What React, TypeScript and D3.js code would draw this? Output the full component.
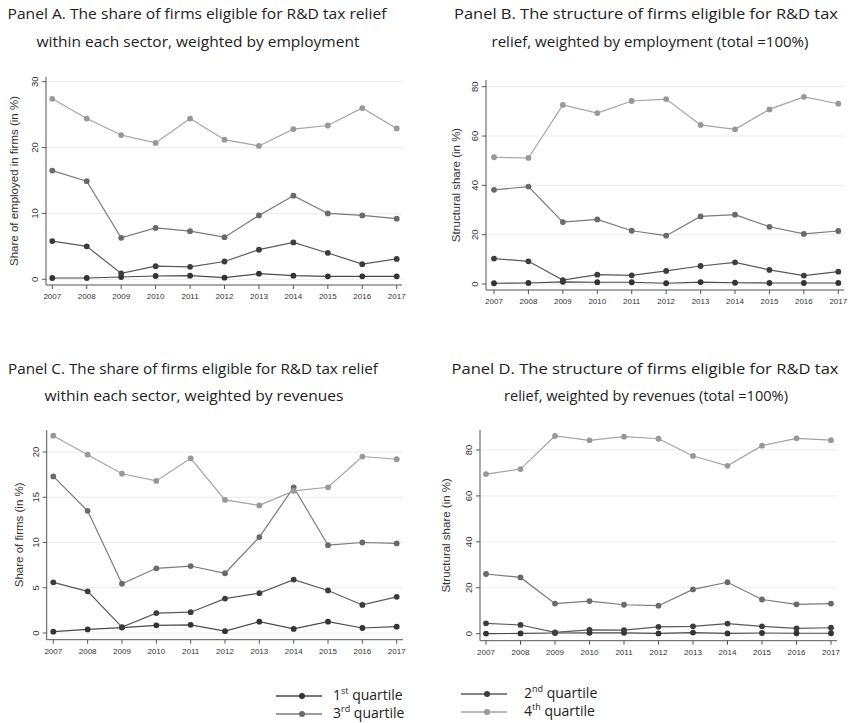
import React from "react";
import * as d3 from "d3";

const years = [2007, 2008, 2009, 2010, 2011, 2012, 2013, 2014, 2015, 2016, 2017];

// Panel A: share of employed in firms (in %)
const aQ1 = [0.2, 0.2, 0.35, 0.5, 0.55, 0.25, 0.85, 0.55, 0.45, 0.45, 0.45];
const aQ2 = [5.8, 5.0, 0.9, 2.0, 1.9, 2.7, 4.5, 5.6, 4.0, 2.3, 3.1];
const aQ3 = [16.5, 14.9, 6.3, 7.8, 7.3, 6.4, 9.7, 12.7, 10.0, 9.7, 9.2];
const aQ4 = [27.4, 24.4, 21.9, 20.7, 24.4, 21.2, 20.25, 22.8, 23.35, 26.0, 22.9];

// Panel B: structural share, employment
const bQ1 = [0.3, 0.4, 0.9, 0.7, 0.7, 0.3, 0.8, 0.5, 0.4, 0.4, 0.4];
const bQ2 = [10.3, 9.2, 1.6, 3.8, 3.5, 5.3, 7.3, 8.8, 5.7, 3.4, 5.0];
const bQ3 = [38.2, 39.5, 25.1, 26.2, 21.6, 19.6, 27.4, 28.1, 23.2, 20.3, 21.5];
const bQ4 = [51.4, 51.1, 72.6, 69.3, 74.2, 75.0, 64.5, 62.7, 70.8, 75.9, 73.1];

// Panel C: share of firms (in %), revenues
const cQ1 = [0.15, 0.4, 0.6, 0.85, 0.9, 0.2, 1.25, 0.45, 1.25, 0.55, 0.7];
const cQ2 = [5.6, 4.6, 0.65, 2.2, 2.3, 3.8, 4.4, 5.9, 4.7, 3.1, 4.0];
const cQ3 = [17.3, 13.5, 5.45, 7.15, 7.4, 6.6, 10.6, 16.1, 9.7, 10.0, 9.9];
const cQ4 = [21.8, 19.7, 17.6, 16.8, 19.3, 14.7, 14.1, 15.7, 16.1, 19.5, 19.2];

// Panel D: structural share, revenues
const dQ1 = [0.05, 0.1, 0.3, 0.4, 0.4, 0.1, 0.5, 0.1, 0.3, 0.2, 0.2];
const dQ2 = [4.5, 3.8, 0.6, 1.7, 1.6, 3.0, 3.2, 4.4, 3.2, 2.3, 2.6];
const dQ3 = [26.0, 24.5, 13.1, 14.2, 12.6, 12.2, 19.3, 22.4, 14.9, 12.8, 13.1];
const dQ4 = [69.5, 71.7, 86.1, 84.2, 85.8, 84.9, 77.4, 73.1, 81.9, 85.1, 84.3];

const aTicks = [0, 10, 20, 30];
const bTicks = [0, 20, 40, 60, 80];
const cTicks = [0, 5, 10, 15, 20];
const dTicks = [0, 20, 40, 60, 80];

const legendLabels = [
  { base: "1", sup: "st", rest: " quartile" },
  { base: "2", sup: "nd", rest: " quartile" },
  { base: "3", sup: "rd", rest: " quartile" },
  { base: "4", sup: "th", rest: " quartile" },
];

const seriesStyle = [
  { line: "#4a4a4a", dot: "#333333" },
  { line: "#5a5a5a", dot: "#3c3c3c" },
  { line: "#7a7a7a", dot: "#6a6a6a" },
  { line: "#a4a4a4", dot: "#989898" },
];

const TITLE_FONT = "'Open Sans', 'Noto Sans', sans-serif";
const AXIS_FONT = "'Liberation Sans', Arial, sans-serif";

type PanelProps = {
  series: number[][];
  ticks: number[];
  yMax: number;
  x0: number;
  x1: number;
  yBottom: number;
  yTopVal: number;
  axisX: number;
  axisY: number;
  axisTop: number;
  gridRight: number;
  yTitle: string;
  yTitleX: number;
  titles: { text: string; cx: number; y: number; w: number }[];
};

function Panel(p: PanelProps) {
  const x = d3.scalePoint<number>().domain(years).range([p.x0, p.x1]);
  const y = d3.scaleLinear().domain([0, p.yMax]).range([p.yBottom, p.yTopVal]);
  const line = d3
    .line<number>()
    .x((_, i) => x(years[i]) as number)
    .y((v) => y(v));
  const yMid = (p.axisTop + p.axisY) / 2;
  return (
    <g>
      {p.titles.map((t, i) => (
        <text
          key={i}
          x={t.cx}
          y={t.y}
          textAnchor="middle"
          fontFamily={TITLE_FONT}
          fontSize={15}
          fill="#222"
          textLength={t.w}
          lengthAdjust="spacingAndGlyphs"
        >
          {t.text}
        </text>
      ))}
      {p.ticks.map((t) => (
        <line
          key={"g" + t}
          x1={p.axisX}
          x2={p.gridRight}
          y1={y(t)}
          y2={y(t)}
          stroke="#ececec"
          strokeWidth={1}
        />
      ))}
      <line x1={p.axisX} x2={p.axisX} y1={p.axisTop} y2={p.axisY} stroke="#555" strokeWidth={1} />
      <line x1={p.axisX} x2={p.gridRight} y1={p.axisY} y2={p.axisY} stroke="#555" strokeWidth={1} />
      {p.ticks.map((t) => (
        <g key={"t" + t}>
          <line x1={p.axisX - 4} x2={p.axisX} y1={y(t)} y2={y(t)} stroke="#555" />
          <text
            transform={`translate(${p.axisX - 8},${y(t)}) rotate(-90)`}
            textAnchor="middle"
            fontFamily={AXIS_FONT}
            fontSize={9.5}
            fill="#333"
          >
            {t}
          </text>
        </g>
      ))}
      {years.map((yr) => (
        <g key={"x" + yr}>
          <line x1={x(yr)} x2={x(yr)} y1={p.axisY} y2={p.axisY + 4} stroke="#555" />
          <text
            x={x(yr)}
            y={p.axisY + 14}
            textAnchor="middle"
            fontFamily={AXIS_FONT}
            fontSize={8}
            fill="#333"
          >
            {yr}
          </text>
        </g>
      ))}
      <text
        transform={`translate(${p.yTitleX},${yMid}) rotate(-90)`}
        textAnchor="middle"
        fontFamily={AXIS_FONT}
        fontSize={11.5}
        fill="#333"
      >
        {p.yTitle}
      </text>
      {p.series.map((s, si) => (
        <g key={"s" + si}>
          <path d={line(s) || ""} fill="none" stroke={seriesStyle[si].line} strokeWidth={1.2} />
          {s.map((v, i) => (
            <circle key={i} cx={x(years[i])} cy={y(v)} r={2.9} fill={seriesStyle[si].dot} />
          ))}
        </g>
      ))}
    </g>
  );
}

function Legend() {
  const items = [
    { lx: 276, tx: 333, y: 696 },
    { lx: 461, tx: 524, y: 694 },
    { lx: 276, tx: 333, y: 714 },
    { lx: 461, tx: 524, y: 712 },
  ];
  return (
    <g>
      {items.map((it, i) => (
        <g key={i}>
          <line x1={it.lx} x2={it.lx + 46} y1={it.y} y2={it.y} stroke={seriesStyle[i].line} strokeWidth={1.3} />
          <circle cx={it.lx + 26} cy={it.y} r={3} fill={seriesStyle[i].dot} />
          <text x={it.tx} y={it.y + 4} fontFamily={TITLE_FONT} fontSize={14} fill="#222">
            {legendLabels[i].base}
            <tspan fontSize={9} dy={-6}>
              {legendLabels[i].sup}
            </tspan>
            <tspan dy={6}>{legendLabels[i].rest}</tspan>
          </text>
        </g>
      ))}
    </g>
  );
}

export default function App() {
  return (
    <svg
      width={849}
      height={723}
      style={{ position: "absolute", left: 0, top: 0, background: "#fff" }}
    >
      <rect width={849} height={723} fill="#fff" />
      <Panel
        series={[aQ1, aQ2, aQ3, aQ4]}
        ticks={aTicks}
        yMax={30}
        x0={52.3}
        x1={396.7}
        yBottom={279.3}
        yTopVal={81.7}
        axisX={46}
        axisY={285}
        axisTop={77}
        gridRight={402}
        yTitle="Share of employed in firms (in %)"
        yTitleX={18}
        titles={[
          { text: "Panel A. The share of firms eligible for R&D tax relief", cx: 197, y: 19, w: 379 },
          { text: "within each sector, weighted by employment", cx: 198, y: 47, w: 323 },
        ]}
      />
      <Panel
        series={[bQ1, bQ2, bQ3, bQ4]}
        ticks={bTicks}
        yMax={80}
        x0={494}
        x1={838.3}
        yBottom={284}
        yTopVal={86.7}
        axisX={486}
        axisY={290}
        axisTop={80}
        gridRight={844}
        yTitle="Structural share (in %)"
        yTitleX={460}
        titles={[
          { text: "Panel B. The structure of firms eligible for R&D tax", cx: 646, y: 19, w: 384 },
          { text: "relief, weighted by employment (total =100%)", cx: 650, y: 47, w: 317 },
        ]}
      />
      <Panel
        series={[cQ1, cQ2, cQ3, cQ4]}
        ticks={cTicks}
        yMax={20}
        x0={53.3}
        x1={396.7}
        yBottom={633}
        yTopVal={452}
        axisX={46.7}
        axisY={639.7}
        axisTop={430}
        gridRight={403}
        yTitle="Share of firms (in %)"
        yTitleX={23}
        titles={[
          { text: "Panel C. The share of firms eligible for R&D tax relief", cx: 193, y: 374, w: 370 },
          { text: "within each sector, weighted by revenues", cx: 194, y: 401, w: 299 },
        ]}
      />
      <Panel
        series={[dQ1, dQ2, dQ3, dQ4]}
        ticks={dTicks}
        yMax={80}
        x0={486}
        x1={831}
        yBottom={633.7}
        yTopVal={450}
        axisX={480}
        axisY={640.7}
        axisTop={430}
        gridRight={837}
        yTitle="Structural share (in %)"
        yTitleX={450}
        titles={[
          { text: "Panel D. The structure of firms eligible for R&D tax", cx: 645, y: 374, w: 387 },
          { text: "relief, weighted by revenues (total =100%)", cx: 646, y: 401, w: 284 },
        ]}
      />
      <Legend />
    </svg>
  );
}
